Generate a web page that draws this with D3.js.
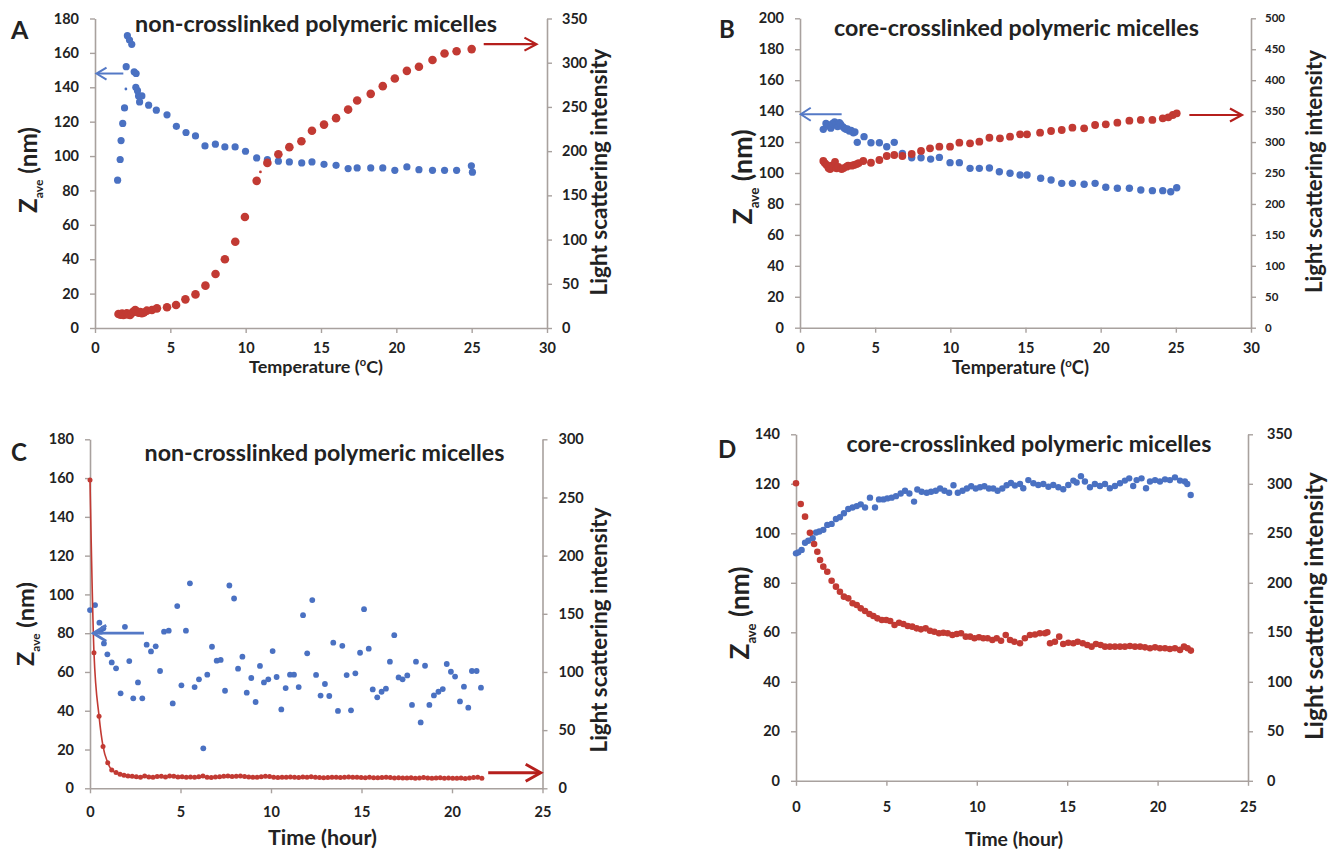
<!DOCTYPE html>
<html><head><meta charset="utf-8">
<script src="https://cdn.jsdelivr.net/npm/d3@7"></script>
<style>
body{margin:0;background:#fff}
svg{display:block}
text{font-family:Lato,"Open Sans",sans-serif;font-weight:700}
</style>
</head><body>
<svg id="chart" width="1331" height="852"></svg>
<script>
// ---------------- DATA ----------------
const tempTicks = [0,5,10,15,20,25,30];
const timeTicks = [0,5,10,15,20,25];
const aLeftTicks = [0,20,40,60,80,100,120,140,160,180];
const aRightTicks = [0,50,100,150,200,250,300,350];
const bLeftTicks = [0,20,40,60,80,100,120,140,160,180,200];
const bRightTicks = [0,50,100,150,200,250,300,350,400,450,500];
const cLeftTicks = [0,20,40,60,80,100,120,140,160,180];
const cRightTicks = [0,50,100,150,200,250,300];
const dLeftTicks = [0,20,40,60,80,100,120,140];
const dRightTicks = [0,50,100,150,200,250,300,350];

const panelTitles = ["non-crosslinked polymeric micelles","core-crosslinked polymeric micelles","non-crosslinked polymeric micelles","core-crosslinked polymeric micelles"];
const panelLetters = ["A","B","C","D"];

// Panel A: temperature (°C) vs Zave (nm) and light scattering intensity
const aZave = [[1.5,86],[1.67,98],[1.73,109],[1.84,119],[1.96,128],[2.07,152],[2.15,170],[2.29,167.5],[2.44,165],[2.6,149],[2.73,148],[2.71,140],[2.82,138],[2.89,135],[3.11,135],[2.96,131.5],[3.56,129.6],[4.07,126.7],[4.78,124],[5.4,117.3],[6.04,113.7],[6.67,111.7],[7.3,105.9],[7.99,106.9],[8.62,105.3],[9.3,105.3],[9.99,102.8],[10.73,98.9],[11.44,97.9],[12.17,97],[12.9,96.6],[13.72,96],[14.4,96.6],[15.2,95.2],[16.0,94.6],[16.8,92.7],[17.4,93.1],[18.3,93.1],[19.1,93.1],[19.9,91.7],[20.7,93.7],[21.5,92.1],[22.4,91.7],[23.2,91.7],[24.0,91.7],[24.98,94.3],[25.05,90.6]];
const aZaveSmall = [[2.05,139]];
const aIntensity = [[1.56,15.8],[1.7,15],[1.8,16.2],[1.89,14.7],[2.0,15.5],[2.11,16.6],[2.2,15.2],[2.33,14.7],[2.45,17],[2.56,18.5],[2.67,20.4],[2.78,18.5],[2.89,17.3],[3.0,18],[3.11,16.6],[3.25,17.5],[3.44,19.6],[3.78,20.4],[4.11,22.2],[4.78,23.4],[5.38,26],[6.0,32.4],[6.67,38],[7.33,47.9],[8.0,61.1],[8.62,77.7],[9.31,97.5],[9.95,125.5],[10.73,166.4],[11.44,186.7],[12.17,196.5],[12.9,204.5],[13.7,211.2],[14.4,223],[15.2,230],[16.0,237.3],[16.8,247],[17.4,257.3],[18.3,264.8],[19.1,273.5],[19.9,282.2],[20.7,290.8],[21.5,295.4],[22.4,303],[23.2,310.4],[24.0,313],[25.0,315.4]];
const aIntensitySmall = [[10.98,176.5]];

// Panel B
const bZave = [[1.55,128.2],[1.73,132],[1.85,131],[1.95,130.4],[2.05,129],[2.17,132],[2.3,133],[2.4,131],[2.5,130],[2.62,132.5],[2.7,131.5],[2.84,130],[2.95,129],[3.06,128.2],[3.15,128.5],[3.28,127.1],[3.4,127.5],[3.55,126],[3.65,126.5],[3.81,119.8],[4.26,123.5],[4.72,119.6],[5.28,119.6],[5.77,117],[6.27,119.8],[6.81,112.7],[7.43,109.9],[8.05,109.9],[8.69,109],[9.27,110.1],[9.98,106.7],[10.6,106.7],[11.31,103],[11.93,103],[12.6,103.2],[13.26,100.8],[13.97,99.8],[14.64,98.7],[15.1,98.7],[16.01,96.6],[16.7,95.5],[17.41,93.3],[18.12,93.3],[18.9,92.7],[19.63,93.3],[20.34,90.8],[21.11,90.1],[21.91,90.1],[22.67,89],[23.44,88.6],[24.13,88.6],[24.66,87.9],[25.06,90.5]];
const bIntensity = [[1.55,269.4],[1.65,266],[1.77,263],[1.9,258],[2.0,256.5],[2.1,262],[2.2,259],[2.33,268],[2.44,257.6],[2.55,260],[2.77,256.5],[2.9,258],[3.1,260.2],[3.2,262],[3.44,261.8],[3.6,263],[3.77,264.5],[3.9,266],[4.21,269.4],[4.72,266.6],[5.28,271],[5.77,277.5],[6.27,279.1],[6.81,277.5],[7.43,280.7],[8.05,285.6],[8.65,289.9],[9.27,292.5],[9.98,292.5],[10.6,299],[11.31,298],[11.93,300.6],[12.6,307],[13.3,306],[13.97,308.7],[14.64,312.5],[15.1,312.5],[15.97,315.1],[16.7,317.9],[17.41,319.5],[18.12,323.2],[18.9,322.2],[19.63,327.6],[20.34,328.7],[21.11,331.3],[21.91,334.5],[22.67,335.7],[23.44,335.7],[24.13,338.4],[24.5,340],[24.8,343.7],[25.06,346.5]];

// Panel C: time (hour)
const cZave = [[0,91.9],[0.28,94.5],[0.52,85.4],[0.59,80.8],[0.74,82.5],[0.77,74.7],[0.96,69.1],[1.2,64.9],[1.44,61.9],[1.69,49],[1.93,83.3],[2.17,65.6],[2.39,46.4],[2.65,54.6],[2.89,46.4],[3.13,74.1],[3.37,70.6],[3.63,73.2],[3.87,60.5],[4.09,80.8],[4.35,81.3],[4.57,43.8],[4.82,94],[5.05,53.1],[5.3,81.3],[5.52,105.7],[5.78,52.2],[6.02,56.2],[6.26,20.6],[6.48,58.6],[6.74,73],[7.0,65.8],[7.22,66.2],[7.46,50.3],[7.7,104.6],[7.96,97.9],[8.18,61.7],[8.42,67.9],[8.66,49.3],[8.91,56.9],[9.15,44.5],[9.39,63.1],[9.61,54.6],[9.85,56.2],[10.09,70.8],[10.31,57.4],[10.57,40.7],[10.81,51.7],[11.05,58.6],[11.27,58.6],[11.53,52.2],[11.77,89.3],[12.0,69.6],[12.28,97.1],[12.49,58.5],[12.74,47.8],[12.98,53.8],[13.22,47.6],[13.44,75.1],[13.7,39.9],[13.94,73.5],[14.18,58.4],[14.42,40.2],[14.66,59.3],[14.92,69.9],[15.14,92.4],[15.4,72],[15.62,51],[15.87,46.9],[16.11,49.8],[16.35,51.4],[16.57,65.3],[16.81,79],[17.05,57.2],[17.27,56.2],[17.53,58.2],[17.79,43],[18.01,65.3],[18.27,34],[18.51,63.2],[18.75,43],[19.0,47.9],[19.25,49.8],[19.49,51.2],[19.71,64.1],[19.94,60.1],[20.17,57.6],[20.44,44.8],[20.66,52.4],[20.9,41.6],[21.1,60.5],[21.36,60.5],[21.6,51.9]];
const cIntensity = [[0,265],[0.22,116.5],[0.5,62],[0.72,36],[0.98,22],[1.2,15.7],[1.44,13.5],[1.66,12],[1.88,11.2],[2.1,10.6],[2.33,10.4],[2.56,10],[2.79,9.6],[3.02,10.5],[3.25,9.8],[3.48,9.5],[3.71,10.2],[3.94,10.4],[4.17,9.7],[4.4,10.5],[4.63,10.3],[4.86,9.8],[5.09,10],[5.32,9.6],[5.55,9.8],[5.78,9.5],[6.01,9.9],[6.24,10.6],[6.47,9.4],[6.7,9.3],[6.93,9.7],[7.16,10],[7.39,10.4],[7.62,10.5],[7.85,10.1],[8.08,10.3],[8.31,10.6],[8.54,10.2],[8.77,9.8],[9.0,9.6],[9.23,9.5],[9.46,9.9],[9.69,10.4],[9.92,10.2],[10.15,9.5],[10.38,9.3],[10.61,9.6],[10.84,9.4],[11.07,9.7],[11.3,9.5],[11.53,9.2],[11.76,9.8],[11.99,9.6],[12.22,9.9],[12.45,9.5],[12.68,9.3],[12.91,9.0],[13.14,9.2],[13.37,9.4],[13.6,9.6],[13.83,9.2],[14.06,9.5],[14.29,9.7],[14.52,9.4],[14.75,9.6],[14.98,9.2],[15.21,9.0],[15.44,9.4],[15.67,9.1],[15.9,9.0],[16.13,9.3],[16.36,9.5],[16.59,9.2],[16.82,8.9],[17.05,9.0],[17.28,8.8],[17.51,8.9],[17.74,9.0],[17.97,8.7],[18.2,8.9],[18.43,9.2],[18.66,8.8],[18.89,8.6],[19.12,8.9],[19.35,9.1],[19.58,8.7],[19.81,8.8],[20.04,8.6],[20.27,8.7],[20.5,8.9],[20.73,8.5],[20.96,8.8],[21.19,9.2],[21.42,9.6],[21.65,8.7]];

// Panel D
const dZave = [[0,91.9],[0.13,92.3],[0.31,93.3],[0.5,96.2],[0.68,97],[0.92,98],[1.11,100.3],[1.29,100.7],[1.51,101.4],[1.73,103.4],[1.97,103.8],[2.21,105.8],[2.43,106.5],[2.65,108.1],[2.89,109.8],[3.13,110.4],[3.36,111],[3.58,111.7],[3.82,110.4],[4.09,114.4],[4.37,110.4],[4.59,113.7],[4.83,113.7],[5.05,114.1],[5.29,114.4],[5.53,115],[5.79,116.1],[6.03,117.2],[6.27,116.1],[6.53,112.8],[6.71,117.7],[6.95,116.8],[7.23,116.4],[7.47,116.8],[7.73,117.2],[7.97,118.1],[8.21,117.2],[8.47,116.4],[8.71,119.4],[8.95,116.4],[9.21,117.2],[9.45,118.1],[9.69,119],[9.94,118.1],[10.18,118.6],[10.42,119],[10.67,118.1],[10.91,118.1],[11.15,117.2],[11.41,118.1],[11.65,119.4],[11.89,120.3],[12.11,119.3],[12.39,119.9],[12.57,118.2],[12.85,121.5],[13.13,120.2],[13.4,119.5],[13.68,119.9],[13.96,118.8],[14.23,119.5],[14.51,118.6],[14.78,117.8],[15.06,119.5],[15.34,121.3],[15.52,120.5],[15.76,123.1],[15.98,120.9],[16.26,118.6],[16.53,119.9],[16.81,119.1],[17.09,119.9],[17.36,118.2],[17.64,119.1],[17.92,120.2],[18.19,121.3],[18.43,122.2],[18.65,119.1],[18.84,121.5],[19.11,122.2],[19.36,118.2],[19.58,120.9],[19.86,121.5],[20.13,120.9],[20.41,121.8],[20.68,121.5],[20.96,122.6],[21.24,121.3],[21.51,120.9],[21.64,119.9],[21.83,115.5]];
const dIntensity = [[0,300.5],[0.26,279.6],[0.5,266.8],[0.77,250.6],[1.0,239.2],[1.18,231.4],[1.33,223],[1.51,216.3],[1.73,211.2],[1.97,202.1],[2.21,196.1],[2.43,191],[2.65,186],[2.89,184.3],[3.13,179.3],[3.36,177.6],[3.58,174.2],[3.82,171.5],[4.06,168.5],[4.28,166.5],[4.5,164.1],[4.75,162.4],[4.99,162.4],[5.21,161.4],[5.45,157.4],[5.7,159.7],[5.94,158.4],[6.18,156.4],[6.43,155.7],[6.67,154],[6.91,153],[7.17,154],[7.41,151.6],[7.65,150.6],[7.91,149],[8.15,149.6],[8.39,149],[8.65,147.3],[8.89,148.3],[9.13,149],[9.39,145.6],[9.63,145.6],[9.87,144],[10.12,145],[10.36,144],[10.6,144],[10.86,142.2],[11.1,144],[11.34,141.5],[11.6,147.3],[11.84,142.2],[12.08,140.5],[12.39,138.9],[12.66,144],[12.94,147.3],[13.22,147.8],[13.49,149],[13.77,149],[13.9,150],[14.05,138.9],[14.32,140.5],[14.56,145.6],[14.78,138.2],[15.06,139.5],[15.34,138.9],[15.58,140.5],[15.86,138.9],[16.11,137.2],[16.35,135.5],[16.59,138.2],[16.85,137.2],[17.09,135.5],[17.36,135.5],[17.64,135.5],[17.92,135.5],[18.19,135.5],[18.47,136.2],[18.75,135.5],[19.03,135.5],[19.3,134.8],[19.58,133.9],[19.86,134.8],[20.13,133.9],[20.41,133.9],[20.68,133.2],[20.96,133.9],[21.24,132.2],[21.46,135.5],[21.66,133.9],[21.84,131.5]];

// ---------------- STYLE ----------------
const BLUE = "#4a71c2", RED = "#c23a33", AXIS = "#a8a19e", INK = "#222";
const ARROW_BLUE = "#5479c6", ARROW_RED = "#b51f1c";
const svg = d3.select("#chart");

function fitText(t, target){
  const w = t.node().getComputedTextLength();
  const fs = parseFloat(t.attr("font-size"));
  t.attr("font-size", fs*target/w);
}

function drawPanel(p){
  const g = svg.append("g");
  const x = d3.scaleLinear().domain(p.xDomain).range([p.left, p.right]);
  const yL = d3.scaleLinear().domain(p.yLDomain).range([p.bottom, p.top]);
  const yR = d3.scaleLinear().domain(p.yRDomain).range([p.bottom, p.top]);

  function styleAxis(sel, fs){
    sel.select(".domain").attr("stroke", AXIS).attr("stroke-width", 1.6);
    sel.selectAll(".tick line").attr("stroke", AXIS).attr("stroke-width", 1.4);
    sel.selectAll(".tick text").attr("fill", INK).attr("font-size", fs)
       .attr("font-family","Lato,sans-serif").attr("font-weight",700);
  }
  g.append("g").attr("transform",`translate(0,${p.bottom})`)
    .call(d3.axisBottom(x).tickValues(p.xTicks).tickSize(5).tickSizeOuter(0).tickPadding(p.xPad))
    .call(s=>styleAxis(s,p.tickFs));
  g.append("g").attr("transform",`translate(${p.left},0)`)
    .call(d3.axisLeft(yL).tickValues(p.yLTicks).tickSize(5).tickSizeOuter(0).tickPadding(p.yLPad))
    .call(s=>styleAxis(s,p.tickFs));
  g.append("g").attr("transform",`translate(${p.right},0)`)
    .call(d3.axisRight(yR).tickValues(p.yRTicks).tickSize(5).tickSizeOuter(0).tickPadding(p.yRPad))
    .call(s=>styleAxis(s,p.rTickFs));

  // series: blue first, red on top
  g.append("g").selectAll("circle").data(p.zave).join("circle")
    .attr("cx", d=>x(d[0])).attr("cy", d=>yL(d[1])).attr("r", p.rBlue).attr("fill", BLUE);
  if (p.zaveSmall) g.append("g").selectAll("circle").data(p.zaveSmall).join("circle")
    .attr("cx", d=>x(d[0])).attr("cy", d=>yL(d[1])).attr("r", 1.4).attr("fill", BLUE);
  if (p.redLine) g.append("path").datum(p.intensity)
    .attr("d", d3.line().x(d=>x(d[0])).y(d=>yR(d[1])).curve(d3.curveMonotoneX))
    .attr("fill","none").attr("stroke", RED).attr("stroke-width", 1.6);
  g.append("g").selectAll("circle").data(p.intensity).join("circle")
    .attr("cx", d=>x(d[0])).attr("cy", d=>yR(d[1])).attr("r", p.rRed).attr("fill", RED);
  if (p.intensitySmall) g.append("g").selectAll("circle").data(p.intensitySmall).join("circle")
    .attr("cx", d=>x(d[0])).attr("cy", d=>yR(d[1])).attr("r", 1.4).attr("fill", RED);

  // arrows (annotation), positioned in data units
  (p.arrows||[]).forEach(a=>{
    const ys = a.axis==="L" ? yL : yR;
    const x1 = x(a.from), x2 = x(a.to), yy = ys(a.y);
    const dir = Math.sign(x2-x1);
    g.append("line").attr("x1",x1).attr("x2",x2 - dir*1).attr("y1",yy).attr("y2",yy)
      .attr("stroke",a.color).attr("stroke-width",a.w);
    g.append("path").attr("d",`M${x2-dir*a.hl},${yy-a.hh}L${x2},${yy}L${x2-dir*a.hl},${yy+a.hh}`)
      .attr("fill","none").attr("stroke",a.color).attr("stroke-width",a.w).attr("stroke-linejoin","miter");
  });

  // panel letter
  g.append("text").attr("x",p.letter.x).attr("y",p.letter.y).attr("font-size",p.letter.fs)
    .attr("fill",INK).text(p.letter.t);
  // title
  const tt = g.append("text").attr("x",p.title.cx).attr("y",p.title.y).attr("text-anchor","middle")
    .attr("font-size",19).attr("fill",INK).text(p.title.t);
  fitText(tt, p.title.w);
  // x title
  const xt = g.append("text").attr("x",p.xTitle.cx).attr("y",p.xTitle.y).attr("text-anchor","middle")
    .attr("font-size",15).attr("fill",INK);
  if (p.xTitle.sup){
    xt.append("tspan").text("Temperature (");
    xt.append("tspan").attr("font-size","0.62em").attr("dy","-0.62em").text("o");
    xt.append("tspan").attr("dy","0.385em").text("C)");
  } else xt.text(p.xTitle.t);
  fitText(xt, p.xTitle.w);
  // left y title
  const yt = g.append("text").attr("transform",`translate(${p.yTitle.x},${p.yTitle.cy}) rotate(-90)`)
    .attr("text-anchor","middle").attr("font-size",20).attr("fill",INK);
  yt.append("tspan").text("Z");
  yt.append("tspan").attr("font-size","0.5em").attr("dy","0.5em").text("ave");
  yt.append("tspan").attr("dy","-0.25em").text(" (nm)");
  fitText(yt, p.yTitle.w);
  // right y title
  const rt = g.append("text").attr("transform",`translate(${p.rTitle.x},${p.rTitle.cy}) rotate(-90)`)
    .attr("text-anchor","middle").attr("font-size",19).attr("fill",INK).text("Light scattering intensity");
  fitText(rt, p.rTitle.w);
}

const panels = [
 { xDomain:[0,30], left:95, right:547, yLDomain:[0,180], yRDomain:[0,350], bottom:328, top:18.5,
   xTicks:tempTicks, yLTicks:aLeftTicks, yRTicks:aRightTicks, xPad:10, yLPad:11, yRPad:10, tickFs:14.5, rTickFs:14.5,
   zave:aZave, zaveSmall:aZaveSmall, intensity:aIntensity, intensitySmall:aIntensitySmall, rBlue:3.6, rRed:4.3,
   arrows:[{axis:"L",y:148,from:1.88,to:0.1,color:ARROW_BLUE,w:2,hl:10,hh:6},
           {axis:"R",y:321,from:25.8,to:29.3,color:ARROW_RED,w:2.2,hl:12,hh:6.5}],
   letter:{t:panelLetters[0],x:11,y:39,fs:25}, title:{t:panelTitles[0],cx:316,y:32,w:362},
   xTitle:{sup:true,cx:316,y:373,w:134}, yTitle:{x:37,cy:170,w:86}, rTitle:{x:607,cy:172,w:247} },
 { xDomain:[0,30], left:800, right:1251, yLDomain:[0,200], yRDomain:[0,500], bottom:327.7, top:18.3,
   xTicks:tempTicks, yLTicks:bLeftTicks, yRTicks:bRightTicks, xPad:10, yLPad:11, yRPad:9, tickFs:14.5, rTickFs:11.5,
   zave:bZave, intensity:bIntensity, rBlue:3.7, rRed:3.9,
   arrows:[{axis:"L",y:138,from:2.77,to:0.05,color:ARROW_BLUE,w:2,hl:10,hh:6.5},
           {axis:"R",y:343.7,from:25.9,to:29.4,color:ARROW_RED,w:2.2,hl:12,hh:6.5}],
   letter:{t:panelLetters[1],x:719,y:38,fs:24}, title:{t:panelTitles[1],cx:1016.5,y:36,w:365},
   xTitle:{sup:true,cx:1020.5,y:374,w:137}, yTitle:{x:752,cy:177,w:95}, rTitle:{x:1322,cy:171.5,w:243} },
 { xDomain:[0,25], left:90, right:542.5, yLDomain:[0,180], yRDomain:[0,300], bottom:788.3, top:439.3,
   xTicks:timeTicks, yLTicks:cLeftTicks, yRTicks:cRightTicks, xPad:13, yLPad:11, yRPad:11, tickFs:14.5, rTickFs:14.5,
   zave:cZave, intensity:cIntensity, rBlue:2.9, rRed:2.5, redLine:true,
   arrows:[{axis:"L",y:80,from:2.98,to:0.18,color:ARROW_BLUE,w:2.8,hl:13,hh:8},
           {axis:"R",y:13.4,from:22.0,to:24.9,color:ARROW_RED,w:3,hl:15,hh:8.5}],
   letter:{t:panelLetters[2],x:11,y:461,fs:24}, title:{t:panelTitles[2],cx:324.5,y:461,w:360},
   xTitle:{t:"Time (hour)",cx:322.5,y:845,w:109}, yTitle:{x:34,cy:624,w:84}, rTitle:{x:607,cy:630,w:245} },
 { xDomain:[0,25], left:796, right:1248, yLDomain:[0,140], yRDomain:[0,350], bottom:780.8, top:434.3,
   xTicks:timeTicks, yLTicks:dLeftTicks, yRTicks:dRightTicks, xPad:16, yLPad:11, yRPad:14, tickFs:14.5, rTickFs:14.5,
   zave:dZave, intensity:dIntensity, rBlue:3.2, rRed:3.3,
   arrows:[],
   letter:{t:panelLetters[3],x:718,y:458,fs:24}, title:{t:panelTitles[3],cx:1029,y:452,w:365},
   xTitle:{t:"Time (hour)",cx:1014,y:846,w:98}, yTitle:{x:749,cy:613,w:93}, rTitle:{x:1323,cy:606,w:268} }
];
panels.forEach(drawPanel);
</script>
</body></html>
